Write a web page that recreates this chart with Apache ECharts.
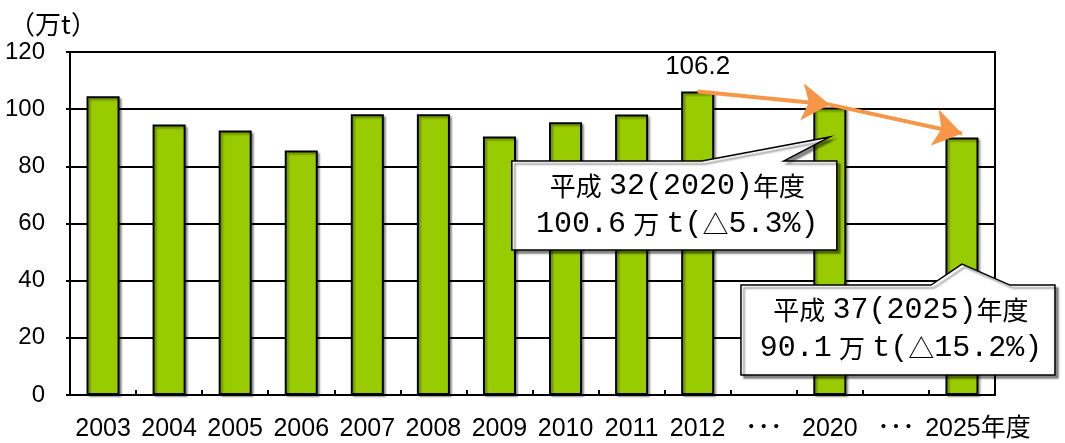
<!DOCTYPE html>
<html>
<head>
<meta charset="utf-8">
<script src="https://cdn.jsdelivr.net/npm/echarts@6/dist/echarts.min.js"></script>
<style>
  html, body { margin: 0; padding: 0; background: #fff; }
  #chart { width: 1065px; height: 443px; }
</style>
</head>
<body>
<div id="chart"></div>
<script>
const categories = ["2003", "2004", "2005", "2006", "2007", "2008", "2009", "2010", "2011", "2012", "･･･", "2020", "･･･", "2025年度"];
const volumes = [104.5, 94.6, 92.5, 85.5, 98.2, 98.2, 90.4, 95.4, 98.1, 106.2, null, 100.6, null, 90.1];
const yTicks = { min: 0, max: 120, interval: 20 };
const unitLabel = "（万t）";

// trend arrows: [from category, from value] -> [to category, to value]
const trendArrows = [
  [["2012", 106.2], ["2020", 101.6]],
  [["2020", 101.6], ["2025年度", 91.5]],
];

// callouts: anchor (category index, value) and two lines of rich text
const callouts = [
  { cat: 11, value: 90.3, lines: ["{c|平成}{s| }{n|32(2020)}{c|年度}", "{n|100.6}{s| }{c|万}{s| }{n|t(}{c|△}{n|5.3%)}"] },
  { cat: 13, value: 45.8, lines: ["{c|平成}{s| }{n|37(2025)}{c|年度}", "{n|90.1}{s| }{c|万}{s| }{n|t(}{c|△}{n|15.2%)}"] },
];

const GREEN = "#99CC00";
const ORANGE = "#F79646";
const SANS = "'Liberation Sans Narrow', 'Liberation Sans', 'Noto Sans CJK JP', sans-serif";
const CJK = "'Noto Sans CJK JP', sans-serif";
const MONO = "'Liberation Mono', 'Noto Sans CJK JP', monospace";

const chart = echarts.init(document.getElementById("chart"));

const barData = volumes.map((v, i) => {
  if (categories[i] === "2012") {
    return {
      value: v,
      label: {
        show: true,
        position: "top",
        distance: 12,
        formatter: "{c}",
        fontSize: 26,
        fontFamily: SANS,
        color: "#000",
      },
    };
  }
  return v;
});

const option = {
  animation: false,
  grid: { left: 70, right: 70, top: 52, bottom: 48 },
  xAxis: {
    type: "category",
    data: categories.map((c) =>
      c === "2025年度"
        ? { value: c, textStyle: { padding: [0, 0, 0, 32] } }
        : c
    ),
    axisLine: { lineStyle: { color: "#000", width: 2 } },
    axisTick: { show: true, inside: true, length: 5, lineStyle: { color: "#000", width: 2 } },
    axisLabel: {
      margin: 22,
      fontSize: 25,
      fontFamily: SANS,
      color: "#000",
      interval: 0,
    },
    splitLine: { show: false },
  },
  yAxis: {
    type: "value",
    min: yTicks.min,
    max: yTicks.max,
    interval: yTicks.interval,
    name: unitLabel,
    nameLocation: "end",
    nameGap: 15,
    nameTextStyle: {
      fontSize: 26,
      fontFamily: CJK,
      color: "#000",
      align: "center",
      padding: [0, 34, 0, 0],
    },
    axisLine: { show: true, lineStyle: { color: "#000", width: 2 } },
    axisTick: { show: true, length: 4, lineStyle: { color: "#000", width: 2 } },
    axisLabel: {
      margin: 25,
      fontSize: 24,
      fontFamily: SANS,
      color: "#000",
    },
    splitLine: { show: true, lineStyle: { color: "#000", width: 2 } },
  },
  series: [
    {
      type: "bar",
      data: barData,
      barWidth: "50%",
      itemStyle: {
        color: GREEN,
        borderColor: "#000",
        borderWidth: 2,
        shadowColor: "rgba(0,0,0,0.35)",
        shadowOffsetX: 2,
        shadowOffsetY: 2,
        shadowBlur: 2,
      },
      markLine: {
        silent: true,
        animation: false,
        symbol: ["none", "arrow"],
        symbolSize: 28,
        label: { show: false },
        lineStyle: { color: ORANGE, width: 4, type: "solid" },
        data: trendArrows.map(([a, b]) => [{ coord: a }, { coord: b }]),
        z: 20,
      },
    },
  ],
};

chart.setOption(option);

// plot frame from the grid rect
const gridRect = chart.getModel().getComponent("grid").coordinateSystem.getRect();

const graphics = [
  {
    type: "rect",
    shape: { x: gridRect.x, y: gridRect.y, width: gridRect.width, height: gridRect.height },
    style: { fill: null, stroke: "#000", lineWidth: 2 },
    silent: true,
    z: 1,
  },
];

// callout shapes relative to the anchor point (box edges, notch base)
const calloutLayout = [
  { left: -318, right: 7, top: 24, bottom: 113, notchL: -128, notchR: -46 },
  { left: -221, right: 93, top: 21, bottom: 111, notchL: -31, notchR: 48 },
];

const richStyles = {
  c: { fontSize: 26, fontFamily: CJK, color: "#000" },
  n: { fontSize: 30, fontFamily: MONO, color: "#000" },
  s: { fontSize: 12, fontFamily: MONO, color: "#000" },
};

callouts.forEach((c, k) => {
  const [tx, ty] = chart.convertToPixel({ xAxisIndex: 0, yAxisIndex: 0 }, [c.cat, c.value]);
  const L = calloutLayout[k];
  const x0 = tx + L.left, x1 = tx + L.right, y0 = ty + L.top, y1 = ty + L.bottom;
  graphics.push({
    type: "polygon",
    shape: {
      points: [
        [x0, y0], [tx + L.notchL, y0], [tx, ty], [tx + L.notchR, y0],
        [x1, y0], [x1, y1], [x0, y1],
      ],
    },
    style: {
      fill: "#fff",
      stroke: "#000",
      lineWidth: 1.5,
      shadowColor: "rgba(0,0,0,0.45)",
      shadowOffsetX: 3,
      shadowOffsetY: 3,
      shadowBlur: 2,
    },
    silent: true,
    z: 50,
  });
  const cx = (x0 + x1) / 2 + 3;
  c.lines.forEach((line, j) => {
    graphics.push({
      type: "text",
      x: cx,
      y: y0 + 25 + j * 38,
      style: {
        text: line,
        rich: richStyles,
        align: "center",
        verticalAlign: "middle",
      },
      silent: true,
      z: 51,
    });
  });
});

chart.setOption({ graphic: graphics });
</script>
</body>
</html>
